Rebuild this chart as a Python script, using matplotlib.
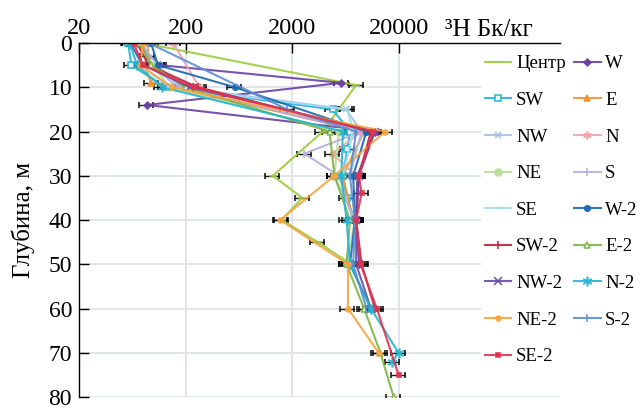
import matplotlib
matplotlib.use("Agg")
import matplotlib.pyplot as plt
from matplotlib.ticker import FixedLocator, NullLocator, FuncFormatter

plt.rcParams['font.family'] = ['Liberation Serif', 'DejaVu Serif']

# Tritium activity profiles (Bq/kg) versus depth (m) for each sampling point
names = ["Центр", "W", "SW", "E", "NW", "N", "NE", "S", "SE",
         "W-2", "SW-2", "E-2", "NW-2", "N-2", "NE-2", "S-2", "SE-2"]

depth_centr = [0, 9.5, 20, 30, 35, 40, 45, 50]
value_centr = [80, 8000, 3900, 1320, 2500, 1600, 3500, 7200]

depth_w = [0, 5, 9, 14, 20, 30, 40, 50]
value_w = [70, 115, 5800, 87, 12000, 8200, 8000, 8500]

depth_sw = [0, 5, 10, 15, 20, 24, 30, 35, 40]
value_sw = [58, 62, 130, 4800, 7000, 6600, 6000, 6500, 7800]

depth_e = [0, 3, 5, 9, 10, 20, 30, 40]
value_e = [90, 88, 82, 95, 150, 9500, 6000, 7500]

depth_nw = [0, 5, 10, 15, 20, 30]
value_nw = [75, 110, 180, 6400, 9000, 7000]

depth_n = [0, 10, 20, 25, 30]
value_n = [153, 270, 9000, 4800, 8000]

depth_ne = [0, 5, 10, 20, 30, 40, 50]
value_ne = [70, 100, 140, 5500, 5000, 7800, 6500]

depth_s = [0, 5, 10, 20, 25, 30, 40]
value_s = [80, 95, 170, 9000, 2600, 5500, 7500]

depth_se = [0, 5, 10, 15, 20, 30]
value_se = [65, 75, 140, 6600, 7500, 6000]

depth_w2 = [0, 5, 10, 20, 30, 40, 50, 60]
value_w2 = [95, 110, 580, 10000, 7500, 7800, 7000, 11000]

depth_sw2 = [0, 5, 10, 20, 30, 40, 50, 60]
value_sw2 = [70, 90, 260, 11000, 8500, 8000, 9000, 12000]

depth_e2 = [0, 5, 10, 20, 30, 40, 50, 60, 70, 80]
value_e2 = [75, 95, 200, 4500, 5000, 7000, 6500, 9500, 13500, 18000]

depth_nw2 = [0, 5, 10, 20, 30, 40, 50, 60]
value_nw2 = [60, 80, 220, 12000, 8500, 8000, 8000, 11000]

depth_n2 = [0, 5, 10, 20, 30, 40, 50, 60, 70, 72]
value_n2 = [60, 70, 120, 6000, 5800, 6500, 7000, 11000, 20000, 17500]

depth_ne2 = [0, 5, 10, 20, 30, 40, 50, 60, 70]
value_ne2 = [80, 75, 150, 15000, 5000, 1550, 6700, 6700, 13000]

depth_s2 = [0, 15, 20, 30, 40, 50, 60]
value_s2 = [90, 1800, 8000, 7000, 7800, 7500, 10000]

depth_se2 = [0, 5, 10, 20, 30, 34, 40, 50, 60, 75]
value_se2 = [65, 80, 240, 11500, 8500, 9000, 8000, 8800, 12500, 20000]

rel_err = 0.15

x_ticks = [20, 200, 2000, 20000]
y_ticks = [0, 10, 20, 30, 40, 50, 60, 70, 80]

profiles = [
    (depth_centr, value_centr), (depth_w, value_w), (depth_sw, value_sw),
    (depth_e, value_e), (depth_nw, value_nw), (depth_n, value_n),
    (depth_ne, value_ne), (depth_s, value_s), (depth_se, value_se),
    (depth_w2, value_w2), (depth_sw2, value_sw2), (depth_e2, value_e2),
    (depth_nw2, value_nw2), (depth_n2, value_n2), (depth_ne2, value_ne2),
    (depth_s2, value_s2), (depth_se2, value_se2),
]

styles = {
    "Центр": dict(color="#9CCB3C", marker="_", ms=6, mfc=None),
    "W":     dict(color="#6B3FA0", marker="D", ms=3.5, mfc=None),
    "SW":    dict(color="#19B5D6", marker="s", ms=4.5, mfc="white"),
    "E":     dict(color="#F7912F", marker="^", ms=5, mfc=None),
    "NW":    dict(color="#A3BFE6", marker="x", ms=5, mfc=None),
    "N":     dict(color="#F2A3A8", marker=(6, 2, 0), ms=6, mfc=None),
    "NE":    dict(color="#B9DC9E", marker="o", ms=5, mfc=None),
    "S":     dict(color="#B7ADD8", marker="|", ms=6, mfc=None),
    "SE":    dict(color="#A2DBF0", marker="_", ms=5, mfc=None),
    "W-2":   dict(color="#1C68B0", marker="o", ms=4, mfc=None),
    "SW-2":  dict(color="#C41E3A", marker="|", ms=6, mfc=None),
    "E-2":   dict(color="#7DB543", marker="^", ms=5, mfc="white"),
    "NW-2":  dict(color="#6A4CA5", marker="x", ms=6, mfc=None),
    "N-2":   dict(color="#25B6CF", marker=(6, 2, 0), ms=7, mfc=None),
    "NE-2":  dict(color="#F7A340", marker="o", ms=3.5, mfc=None),
    "S-2":   dict(color="#5A8FD2", marker="|", ms=6, mfc=None),
    "SE-2":  dict(color="#E2334F", marker="s", ms=3, mfc=None),
}

fig = plt.figure(figsize=(6.43, 4.11), dpi=100)
W, H = 643, 411
ax = fig.add_axes([79 / W, (H - 397) / H, (560 - 79) / W, (397 - 43) / H])

handles = {}
for name, (d, v) in zip(names, profiles):
    st = styles[name]
    xerr = [val * rel_err for val in v]
    eb = ax.errorbar(v, d, xerr=xerr, color=st["color"], lw=1.5, alpha=0.9,
                     marker=st["marker"], ms=st["ms"],
                     mfc=st["mfc"] if st["mfc"] else st["color"],
                     mec=st["color"], mew=1.2,
                     ecolor="black", elinewidth=1.0, capsize=2.5, capthick=1.0)
    handles[name] = eb[0]

ax.set_xscale("log")
ax.set_xlim(20, 656000)
ax.set_ylim(80, 0)
ax.xaxis.tick_top()
ax.xaxis.set_major_locator(FixedLocator(x_ticks))
ax.xaxis.set_minor_locator(NullLocator())
ax.xaxis.set_major_formatter(FuncFormatter(lambda x, p: f"{int(round(x))}"))
ax.set_yticks(y_ticks)

ax.tick_params(axis="both", direction="in", length=7, width=1.0,
               labelsize=17.5, colors="black")
ax.tick_params(axis="y", labelsize=17)
ax.tick_params(axis="x", pad=3)
ax.tick_params(axis="y", pad=5)

for side in ("right", "bottom"):
    ax.spines[side].set_visible(False)
for side in ("top", "left"):
    ax.spines[side].set_linewidth(1.0)
    ax.spines[side].set_color("black")

ax.grid(True, color="#DDE3E8", lw=1.3)
ax.set_axisbelow(True)

ax.set_ylabel("Глубина, м", fontsize=18, labelpad=10)
fig.text(445 / W, (H - 36) / H, "³H Бк/кг", fontsize=18, ha="left",
         va="baseline")

# two-column legend filled row by row
col1 = names[0::2]
col2 = names[1::2]
order = col1 + col2
leg = ax.legend([handles[n] for n in order], order,
                loc="upper left", bbox_to_anchor=(472 / W, (H - 42) / H),
                bbox_transform=fig.transFigure, ncol=2, fontsize=13.5,
                frameon=True, facecolor="white", edgecolor="none",
                framealpha=1.0, fancybox=False, borderpad=0.2,
                labelspacing=1.04, handlelength=1.4, handletextpad=0.25,
                columnspacing=0.45)

fig.savefig("out.png", dpi=100)
